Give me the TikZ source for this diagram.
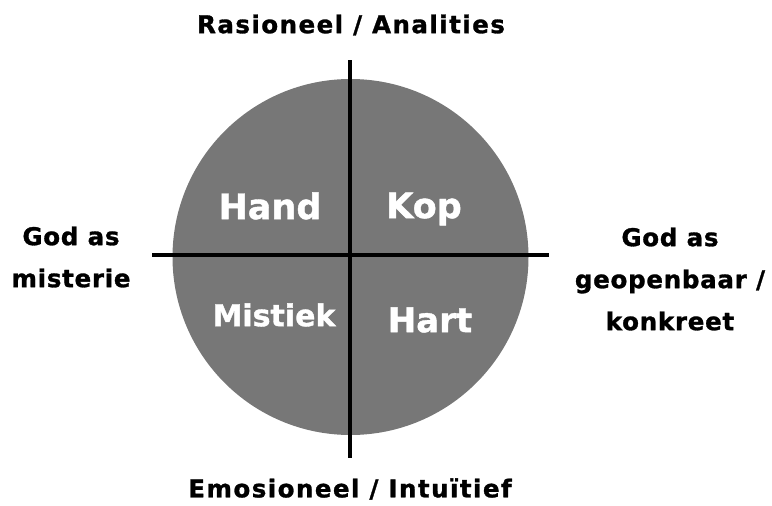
\documentclass[tikz,border=0pt]{standalone}
\usepackage{fontspec}
\setmainfont{DejaVu Sans}[BoldFeatures={FakeBold=1.2}]
\newfontfamily\outerfont{DejaVu Sans}[LetterSpace=3, BoldFeatures={FakeBold=1.2}]
\newfontfamily\axisfont{DejaVu Sans}[LetterSpace=6, BoldFeatures={FakeBold=1.2}]
\begin{document}
\begin{tikzpicture}[x=1pt,y=-1pt,
  outer/.style={font=\outerfont\bfseries\fontsize{24.5}{42}\selectfont, align=center, text=black, inner sep=0pt},
  axislabel/.style={outer, font=\axisfont\bfseries\fontsize{24.5}{42}\selectfont},
  inner/.style={font=\bfseries\fontsize{35}{40}\selectfont, text=white, inner sep=0pt},
  axis/.style={line width=4pt, black}]
\useasboundingbox (0,0) rectangle (772,506);
\fill[fill={rgb,255:red,119;green,119;blue,119}] (350.5,257) circle (178);
\coordinate (top) at (350,60);
\coordinate (bot) at (350,458);
\coordinate (lft) at (152,255);
\coordinate (rgt) at (549,255);
\draw[axis] (top) -- (bot);
\draw[axis] (lft) -- (rgt);
\node[axislabel] (t) at (351,25) {Rasioneel / Analities};
\node[axislabel] (b) at (350,489) {Emosioneel / Intuïtief};
\node[outer] (l) at (71,257) {God as\\misterie};
\node[outer] (r) at (670,279) {God as\\geopenbaar /\\konkreet};
\node[inner] (hand) at (270,206) {Hand};
\node[inner] (kop) at (424,209) {Kop};
\node[inner, font=\bfseries\fontsize{30}{40}\selectfont] (mis) at (274,315) {Mistiek};
\node[inner, font=\bfseries\fontsize{34}{40}\selectfont] (hart) at (430,320) {Hart};
\end{tikzpicture}
\end{document}
